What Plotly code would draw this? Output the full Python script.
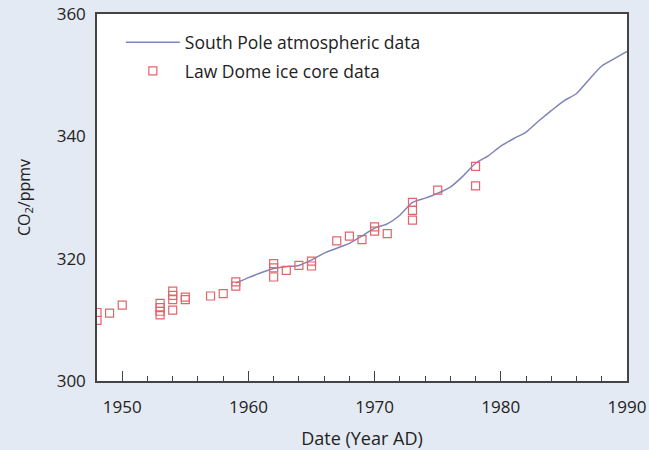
import plotly.graph_objects as go

# South Pole atmospheric data (annual)
sp_years = [1959, 1960, 1961, 1962, 1963, 1964, 1965, 1966, 1967, 1968, 1969,
            1970, 1971, 1972, 1973, 1974, 1975, 1976, 1977, 1978, 1979, 1980,
            1981, 1982, 1983, 1984, 1985, 1986, 1987, 1988, 1989, 1990]
sp_co2 = [316.0, 316.9, 317.7, 318.4, 318.7, 318.9, 319.8, 320.9, 321.7, 322.5, 323.7,
          325.0, 325.7, 327.1, 329.2, 329.9, 330.7, 331.7, 333.5, 335.6, 336.8, 338.4,
          339.6, 340.7, 342.5, 344.2, 345.8, 347.0, 349.3, 351.5, 352.7, 353.9]

# Law Dome ice core data
ld_years = [1948, 1948, 1949, 1950, 1953, 1953, 1953, 1953, 1954, 1954, 1954, 1954,
            1955, 1955, 1957, 1958, 1959, 1959, 1962, 1962, 1962, 1963, 1964, 1965,
            1965, 1967, 1968, 1969, 1970, 1970, 1971, 1973, 1973, 1973, 1975, 1978, 1978]
ld_co2 = [311.2, 309.9, 311.1, 312.4, 312.7, 312.0, 311.4, 310.8, 314.7, 314.0, 313.3, 311.6,
          313.7, 313.3, 313.9, 314.3, 316.2, 315.5, 319.2, 318.5, 317.0, 318.1, 318.9, 319.6,
          318.8, 322.9, 323.7, 323.1, 325.2, 324.5, 324.1, 329.2, 327.9, 326.3, 331.2, 335.1, 331.9]

x_ticks = [1950, 1960, 1970, 1980, 1990]
y_ticks = [300, 320, 340, 360]

FONT = "Open Sans"

fig = go.Figure()
fig.add_trace(go.Scatter(
    x=sp_years, y=sp_co2, mode="lines", name="South Pole atmospheric data",
    legendgroup="sp",
    line=dict(color="#7f85b8", width=1.5, shape="spline", smoothing=0.6),
))
fig.add_trace(go.Scatter(
    x=ld_years, y=ld_co2, mode="markers", name="Law Dome ice core data",
    legendgroup="ld",
    marker=dict(symbol="square-open", size=8, color="#e2646c", line=dict(width=1.2)),
))

fig.update_layout(
    width=649, height=450,
    margin=dict(l=97, r=22, t=14, b=69),
    paper_bgcolor="#e4eaf3",
    plot_bgcolor="#ffffff",
    font=dict(family=FONT, size=16, color="#222222"),
    showlegend=True,
    legend=dict(x=0.045, y=0.972, xanchor="left", yanchor="top",
                bgcolor="rgba(255,255,255,0)", font=dict(size=17.5, family=FONT),
                itemwidth=54, tracegroupgap=3),
    xaxis=dict(
        range=[1948, 1990], tickvals=x_ticks, ticktext=[str(v) for v in x_ticks],
        showgrid=False, zeroline=False, automargin=False,
        showline=True, linecolor="#444444", linewidth=1.5, mirror=True,
        ticks="inside", ticklen=10, tickcolor="#444444", tickwidth=1,
        ticklabelstandoff=10,
        minor=dict(ticks="inside", ticklen=5, dtick=2, tick0=1948, tickcolor="#444444", showgrid=False),
        title=dict(text="Date (Year AD)", standoff=15, font=dict(size=18)),
        tickfont=dict(size=17),
    ),
    yaxis=dict(
        range=[300, 360], tickvals=y_ticks, ticktext=[str(v) for v in y_ticks],
        showgrid=False, zeroline=False, automargin=False,
        showline=True, linecolor="#444444", linewidth=1.5, mirror=True,
        ticks="", ticklabelstandoff=6,
        title=dict(text="CO<sub>2</sub>/ppmv", standoff=22, font=dict(size=16)),
        tickfont=dict(size=17),
    ),
)

fig.write_html("out.html")
